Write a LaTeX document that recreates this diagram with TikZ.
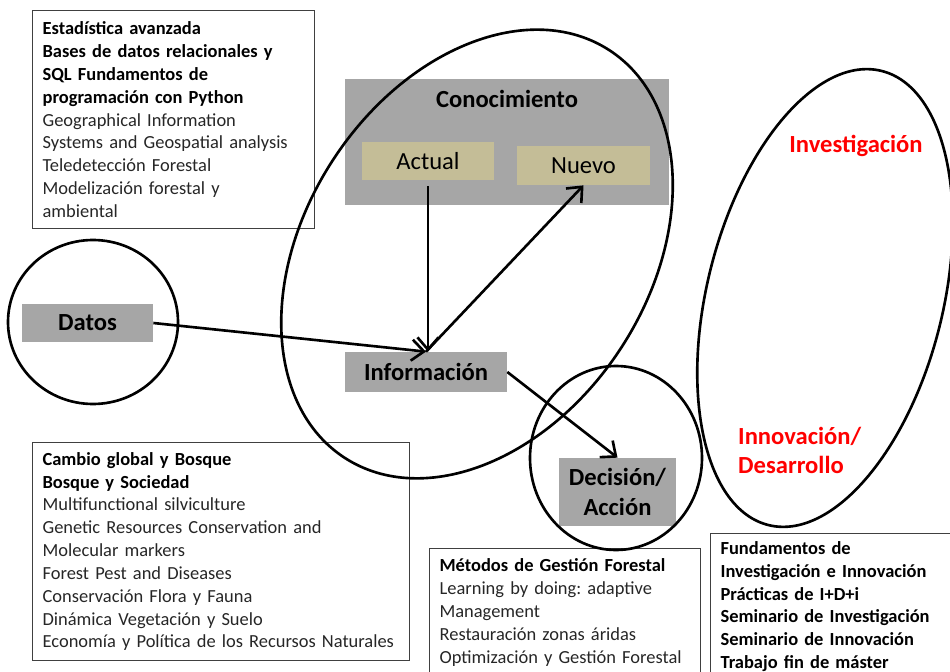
\documentclass[tikz,border=0pt]{standalone}
\usepackage{fontspec}
\setmainfont{Carlito}
\usepackage{xcolor}
\usepackage{tikz}
\usetikzlibrary{shapes,arrows.meta,positioning,calc}
\definecolor{boxgray}{RGB}{166,166,166}
\definecolor{boxtan}{RGB}{196,189,151}
\definecolor{linegray}{RGB}{64,64,64}
\definecolor{textgray}{RGB}{38,38,38}
\definecolor{labelred}{RGB}{255,0,0}
\frenchspacing

\tikzset{
    listbox/.style={draw=linegray, line width=0.7pt, anchor=north west, align=left,
        inner xsep=0.2cm, font=\fontsize{10.5}{13}\selectfont, text=textgray},
    graybox/.style={fill=boxgray, inner sep=0pt, font=\fontsize{14}{17}\selectfont\bfseries},
    tanbox/.style={fill=boxtan, inner sep=0pt, minimum width=2.66cm, font=\fontsize{14}{17}\selectfont},
    ring/.style={line width=1.5pt},
    flow/.style={line width=1.5pt, -{Straight Barb[length=7pt,width=12pt]}},
    redlabel/.style={text=labelred, font=\fontsize{14}{16.5}\selectfont\bfseries, align=left}
}

\begin{document}
\begin{tikzpicture}[x=0.02cm, y=-0.02cm]
    \clip (0,0) rectangle (950,672);

    \node[listbox, minimum width=5.64cm, minimum height=4.36cm, text width=5.24cm] (herramientas) at (32,10) {
        \textbf{\color{black}Estadística avanzada}\\
        \textbf{\color{black}Bases de datos relacionales y}\\
        \textbf{\color{black}SQL Fundamentos de}\\
        \textbf{\color{black}programación con Python}\\
        Geographical Information\\
        Systems and Geospatial analysis\\
        Teledetección Forestal\\
        Modelización forestal y\\
        ambiental};

    \node[listbox, minimum width=7.54cm, minimum height=4.36cm, text width=7.14cm] (ecologia) at (32,442) {
        \textbf{\color{black}Cambio global y Bosque}\\
        \textbf{\color{black}Bosque y Sociedad}\\
        Multifunctional silviculture\\
        Genetic Resources Conservation and\\
        Molecular markers\\
        Forest Pest and Diseases\\
        Conservación Flora y Fauna\\
        Dinámica Vegetación y Suelo\\
        Economía y Política de los Recursos Naturales};

    \node[listbox, minimum width=5.42cm, minimum height=2.56cm, text width=5.02cm] (gestion) at (429,548) {
        \textbf{\color{black}Métodos de Gestión Forestal}\\
        Learning by doing: adaptive\\
        Management\\
        Restauración zonas áridas\\
        Optimización y Gestión Forestal};

    \node[listbox, minimum width=5cm, minimum height=2.92cm, text width=4.6cm, text=black, font=\fontsize{10.5}{13}\selectfont\bfseries] (idi) at (710,533) {
        Fundamentos de\\
        Investigación e Innovación\\
        Prácticas de I+D+i\\
        Seminario de Investigación\\
        Seminario de Innovación\\
        Trabajo fin de máster};

    \node[graybox, minimum width=6.48cm, minimum height=2.52cm] (conoc) at (507,142) {};
    \node[font=\fontsize{14}{17}\selectfont\bfseries] (conoctit) at (507,99) {Conocimiento};
    \node[tanbox, minimum height=0.76cm] (actual) at (428,161) {Actual};
    \node[tanbox, minimum height=0.78cm] (nuevo) at (583.5,165.5) {Nuevo};
    \node[graybox, minimum width=2.62cm, minimum height=0.76cm] (datos) at (87.5,323) {Datos};
    \node[graybox, minimum width=3.24cm, minimum height=0.8cm] (info) at (426,372) {Información};
    \node[graybox, minimum width=2.34cm, minimum height=1.36cm, align=center] (decision) at (617.5,492) {Decisión/\\Acción};

    \node[redlabel] (invest) at (856,146) {Investigación};
    \node[redlabel, anchor=west] (innov) at (732,450) {Innovación/\\Desarrollo};

    \draw[ring] (93,322) ellipse [x radius=85, y radius=82];
    \draw[ring, rotate around={57:(477,254)}] (477,254) ellipse [x radius=243, y radius=172];
    \draw[ring] (616,458) ellipse [x radius=86, y radius=92];
    \draw[ring, rotate around={76:(825,298)}] (825,298) ellipse [x radius=234, y radius=118];

    \draw[flow] (datos.east) -- (info.north);
    \draw[flow, shorten <=0.12cm] (actual.south) -- (actual.south |- info.north);
    \draw[flow] (info.north) -- (nuevo.south);
    \draw[flow] (info.east) -- (decision.north);
\end{tikzpicture}
\end{document}
